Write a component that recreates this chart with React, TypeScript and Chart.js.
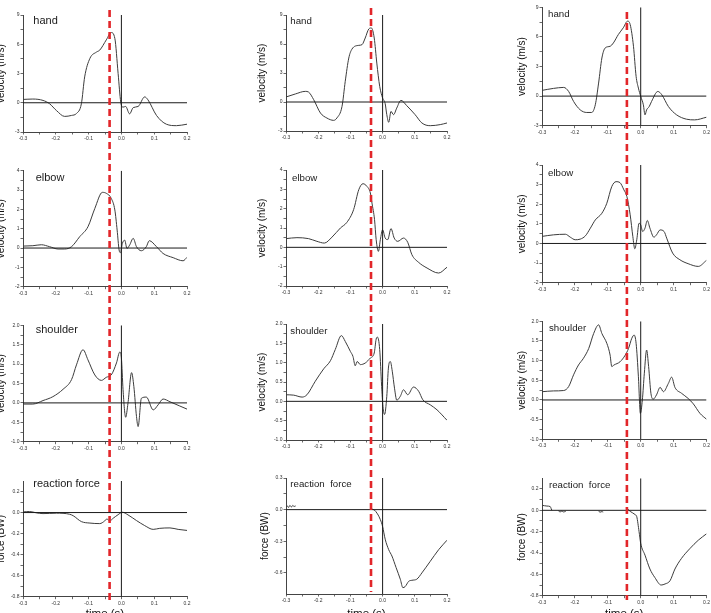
import React, { useEffect, useRef } from 'react';
import { Chart, registerables } from 'chart.js';

Chart.register(...registerables);

const FONT = "'Liberation Sans', Arial, Helvetica, sans-serif";

// ---------- tick labels ----------
const X_TICKS = [-0.3, -0.2, -0.1, 0.0, 0.1, 0.2];
const Y_TICKS_HAND = [-3, 0, 3, 6, 9];
const Y_TICKS_ELBOW = [-2, -1, 0, 1, 2, 3, 4];
const Y_TICKS_SHOULDER = [-1.0, -0.5, 0.0, 0.5, 1.0, 1.5, 2.0];
const Y_TICKS_FORCE = [-0.8, -0.6, -0.4, -0.2, 0.0, 0.2];
const Y_TICKS_FORCE_B = [-0.6, -0.3, 0.0, 0.3];

const PANEL_NAMES = ['hand', 'elbow', 'shoulder', 'reaction force'];
const PANEL_NAMES_B = ['hand', 'elbow', 'shoulder', 'reaction  force'];
const Y_TITLES = ['velocity (m/s)', 'velocity (m/s)', 'velocity (m/s)', 'force (BW)'];
const X_TITLE = 'time (s)';
// time of the red dashed marker in each column (s)
const RED_TIMES = [-0.036, -0.036, -0.042];

type Pt = [number, number | null];

// ---------- column 1 ----------
const hand1: Pt[] = [[-0.3,0.34],[-0.27,0.38],[-0.239,0.24],[-0.219,-0.1],[-0.198,-0.8],[-0.173,-1.4],[-0.152,-1.3],[-0.137,-1.1],[-0.122,-0.1],[-0.112,2.65],[-0.096,4.55],[-0.076,5.2],[-0.066,5.4],[-0.046,6.45],[-0.031,7.2],[-0.02,6.6],[-0.01,3.0],[-0.002,0.07],[0.005,-0.45],[0.013,-0.38],[0.025,-1.14],[0.036,-0.5],[0.051,-0.38],[0.071,0.6],[0.081,0.3],[0.107,-1.3],[0.137,-2.2],[0.168,-2.35],[0.2,-2.2]];
const elbow1: Pt[] = [[-0.3,0.1],[-0.27,0.12],[-0.244,0.17],[-0.219,0.07],[-0.193,-0.05],[-0.173,-0.05],[-0.152,0.07],[-0.127,0.59],[-0.102,1.1],[-0.081,2.05],[-0.058,2.88],[-0.046,2.83],[-0.031,2.57],[-0.02,1.97],[-0.013,0.93],[-0.007,-0.1],[-0.003,-0.24],[0.003,0.24],[0.01,0.41],[0.017,-0.02],[0.025,0.15],[0.036,0.5],[0.046,0.07],[0.061,-0.14],[0.076,0.07],[0.085,0.38],[0.107,0.07],[0.127,-0.28],[0.158,-0.5],[0.188,-0.66],[0.2,-0.48]];
const shoulder1: Pt[] = [[-0.3,-0.03],[-0.27,-0.03],[-0.239,0.06],[-0.209,0.16],[-0.178,0.35],[-0.152,0.6],[-0.137,0.98],[-0.117,1.37],[-0.102,1.11],[-0.081,0.72],[-0.061,0.58],[-0.046,0.66],[-0.031,0.72],[-0.015,1.03],[-0.005,1.31],[0,1.16],[0.005,0.34],[0.013,-0.37],[0.02,-0.01],[0.031,0.78],[0.038,0.42],[0.046,-0.35],[0.051,-0.61],[0.061,0.12],[0.076,0.15],[0.097,-0.18],[0.112,-0.05],[0.127,0.1],[0.148,0.03],[0.178,-0.08],[0.2,-0.16]];
const force1: Pt[] = [[-0.3,0.006],[-0.28,0.01],[-0.259,-0.003],[-0.239,-0.01],[-0.198,-0.006],[-0.158,-0.016],[-0.147,-0.03],[-0.122,-0.086],[-0.096,-0.1],[-0.066,-0.105],[-0.051,-0.08],[-0.044,-0.06],[-0.036,-0.08],[-0.025,-0.054],[-0.01,-0.02],[0.003,0.003],[0.02,-0.022],[0.046,-0.076],[0.071,-0.124],[0.097,-0.16],[0.117,-0.15],[0.148,-0.146],[0.173,-0.16],[0.2,-0.17]];

// ---------- column 2 ----------
const hand2: Pt[] = [[-0.3,0.52],[-0.271,0.83],[-0.24,1.1],[-0.23,1.03],[-0.214,0.24],[-0.193,-1.14],[-0.173,-1.66],[-0.152,-1.9],[-0.142,-1.66],[-0.126,-0.45],[-0.116,2.14],[-0.105,4.55],[-0.095,5.48],[-0.074,5.86],[-0.064,5.93],[-0.054,6.62],[-0.043,7.55],[-0.035,7.66],[-0.026,6.62],[-0.018,4.03],[-0.009,1.62],[0,0.41],[0.008,-0.17],[0.013,-1.31],[0.019,-2.1],[0.026,-0.97],[0.034,-1.31],[0.044,-0.62],[0.057,0.17],[0.075,-0.38],[0.101,-1.31],[0.122,-2.17],[0.148,-2.45],[0.179,-2.34],[0.2,-2.17]];
const elbow2: Pt[] = [[-0.3,0.45],[-0.266,0.5],[-0.23,0.45],[-0.204,0.31],[-0.181,0.22],[-0.157,0.53],[-0.131,1.0],[-0.111,1.29],[-0.09,1.95],[-0.074,2.98],[-0.061,3.29],[-0.049,3.16],[-0.038,2.81],[-0.033,2.29],[-0.025,1.43],[-0.02,0.4],[-0.013,-0.21],[-0.007,0.4],[0,0.91],[0.008,0.48],[0.016,0.4],[0.026,0.97],[0.036,0.48],[0.047,0.31],[0.065,0.48],[0.078,0.26],[0.091,-0.38],[0.112,-0.78],[0.138,-1.07],[0.174,-1.33],[0.2,-1.03]];
const shoulder2: Pt[] = [[-0.3,0.17],[-0.276,0.16],[-0.25,0.11],[-0.235,0.17],[-0.209,0.52],[-0.183,0.84],[-0.162,1.05],[-0.147,1.34],[-0.128,1.7],[-0.116,1.55],[-0.1,1.29],[-0.092,1.16],[-0.085,0.92],[-0.079,1.03],[-0.069,0.95],[-0.054,0.99],[-0.038,1.12],[-0.026,1.25],[-0.02,1.61],[-0.016,1.66],[-0.009,1.34],[-0.003,0.39],[0.001,-0.13],[0.006,-0.34],[0.013,0.13],[0.018,0.86],[0.024,1.03],[0.03,0.78],[0.037,0.34],[0.044,0.03],[0.055,0.13],[0.065,0.3],[0.078,0.17],[0.096,0.37],[0.112,0.26],[0.125,0.04],[0.148,-0.09],[0.169,-0.22],[0.2,-0.49]];
const force2: Pt[] = [[-0.3,0.02],[-0.296,0.035],[-0.292,0.02],[-0.288,0.04],[-0.283,0.025],[-0.279,0.04],[-0.275,0.03],[-0.27,0.035],[-0.268,null],[-0.035,0.006],[-0.026,-0.003],[-0.016,-0.04],[-0.007,-0.095],[0,-0.16],[0.008,-0.28],[0.019,-0.38],[0.029,-0.44],[0.042,-0.55],[0.055,-0.66],[0.063,-0.74],[0.07,-0.73],[0.081,-0.68],[0.091,-0.67],[0.106,-0.66],[0.122,-0.6],[0.148,-0.49],[0.174,-0.38],[0.2,-0.29]];

// ---------- column 3 ----------
const hand3: Pt[] = [[-0.3,0.58],[-0.265,0.78],[-0.234,0.88],[-0.219,0.47],[-0.204,-0.54],[-0.184,-1.39],[-0.164,-1.66],[-0.149,-1.66],[-0.138,-0.88],[-0.128,1.32],[-0.118,3.86],[-0.108,4.88],[-0.093,5.05],[-0.083,5.39],[-0.068,6.24],[-0.053,6.92],[-0.04,7.6],[-0.032,7.25],[-0.022,5.05],[-0.014,2.0],[-0.007,0.81],[0,-0.03],[0.008,-0.88],[0.013,-1.9],[0.018,-1.39],[0.026,-1.05],[0.033,-0.54],[0.052,0.47],[0.064,0.14],[0.084,-1.05],[0.109,-1.9],[0.139,-2.34],[0.164,-2.41],[0.2,-2.14]];
const elbow3: Pt[] = [[-0.3,0.36],[-0.265,0.44],[-0.229,0.47],[-0.214,0.32],[-0.199,0.19],[-0.184,0.22],[-0.168,0.39],[-0.153,0.78],[-0.138,1.2],[-0.118,1.54],[-0.103,2.05],[-0.088,2.9],[-0.075,3.15],[-0.063,3.1],[-0.051,2.73],[-0.042,2.39],[-0.032,1.46],[-0.024,0.36],[-0.018,-0.27],[-0.012,0.19],[-0.005,1.03],[0,0.95],[0.006,0.61],[0.013,0.78],[0.02,1.17],[0.028,0.78],[0.04,0.32],[0.048,0.44],[0.059,0.69],[0.071,0.61],[0.079,0.27],[0.097,-0.49],[0.119,-0.83],[0.144,-1.03],[0.175,-1.17],[0.2,-0.86]];
const shoulder3: Pt[] = [[-0.3,0.21],[-0.265,0.23],[-0.234,0.24],[-0.219,0.34],[-0.204,0.64],[-0.189,0.89],[-0.174,1.06],[-0.158,1.31],[-0.143,1.69],[-0.128,1.91],[-0.118,1.69],[-0.103,1.44],[-0.093,1.14],[-0.088,0.85],[-0.081,0.89],[-0.063,0.97],[-0.047,1.14],[-0.037,1.31],[-0.027,1.57],[-0.02,1.65],[-0.014,1.44],[-0.007,0.59],[-0.001,-0.34],[0.005,0],[0.011,0.68],[0.018,1.27],[0.024,0.85],[0.031,0.17],[0.038,0.02],[0.048,0.13],[0.059,0.32],[0.069,0.21],[0.084,0.42],[0.094,0.58],[0.104,0.32],[0.124,0.17],[0.144,0.04],[0.16,-0.1],[0.18,-0.34],[0.2,-0.49]];
const force3: Pt[] = [[-0.3,0.047],[-0.285,0.04],[-0.275,0.035],[-0.272,0.015],[-0.27,0.0],[-0.262,null],[-0.25,-0.005],[-0.245,-0.015],[-0.24,-0.008],[-0.235,-0.015],[-0.228,-0.01],[-0.2,null],[-0.128,-0.005],[-0.124,-0.018],[-0.118,-0.012],[-0.114,-0.016],[-0.1,null],[-0.042,0.02],[-0.032,-0.01],[-0.017,-0.04],[-0.012,-0.06],[-0.005,-0.2],[0,-0.31],[0.013,-0.42],[0.028,-0.55],[0.043,-0.63],[0.062,-0.7],[0.074,-0.69],[0.089,-0.66],[0.104,-0.55],[0.124,-0.45],[0.149,-0.36],[0.175,-0.28],[0.2,-0.22]];

const SERIES: Pt[][][] = [
  [hand1, elbow1, shoulder1, force1],
  [hand2, elbow2, shoulder2, force2],
  [hand3, elbow3, shoulder3, force3],
];

// ---------- layout (page pixels) ----------
const ROWS: [number, number][] = [[0, 150], [150, 300], [300, 455], [455, 630]];
const Y_RANGES: [number, number][] = [[-3, 9], [-2, 4], [-1, 2], [-0.8, 0.3]];
const Y_DEC = [0, 0, 1, 1];
const COLS = [
  { left: -10, width: 247, areaL: 23, areaR: 187, titleX: [1, 1, 1, 1], red: [10, 604], fs: 11,
    lab: [[33.3, 20.7], [35.7, 177.3], [35.7, 329.3], [33.3, 483.3]],
    areas: [[15, 132], [170.7, 286.7], [325.3, 441.7], [481, 596.7]] },
  { left: 237, width: 237, areaL: 286, areaR: 447, titleX: [262, 262, 262, 265], red: [8, 592], fs: 9.7,
    lab: [[290.3, 21], [292, 177.7], [290.3, 331], [290.3, 484.3]],
    areas: [[15, 131], [170, 286], [324, 440], [478, 594]] },
  { left: 474, width: 237, areaL: 542, areaR: 707, titleX: [522, 522, 522, 522], red: [12, 600], fs: 9.7,
    lab: [[548, 14], [548, 172.7], [549, 328.3], [549, 485]],
    areas: [[7.3, 125.7], [165, 282.7], [321.3, 439.3], [478.3, 595.7]] },
];
const X_TITLE_Y = 614;

const withMinors = (majors: number[]) => {
  const out: number[] = [];
  majors.forEach((m, i) => {
    out.push(m);
    if (i < majors.length - 1) out.push((m + majors[i + 1]) / 2);
  });
  return out;
};
const isMajor = (majors: number[], v: number) => majors.some((m) => Math.abs(m - v) < 1e-9);

const redLine = {
  id: 'redLine',
  afterDatasetsDraw(chart: any, _args: any, opts: any) {
    const { ctx, scales } = chart;
    const px = scales.x.getPixelForValue(opts.t);
    ctx.save();
    ctx.strokeStyle = '#e2262a';
    ctx.lineWidth = 2.6;
    ctx.setLineDash([7, 4]);
    ctx.lineDashOffset = opts.dashOffset;
    ctx.beginPath();
    ctx.moveTo(px, opts.y0);
    ctx.lineTo(px, opts.y1);
    ctx.stroke();
    ctx.restore();
  },
};

type PanelCfg = {
  left: number; top: number; w: number; h: number;
  pad: { left: number; right: number; top: number; bottom: number };
  yWidth: number; xHeight: number;
  ymin: number; ymax: number; yMajors: number[]; yDec: number;
  series: Pt[]; yTitle: string; showXTitle: boolean;
  redT: number; y0: number; y1: number; dashOffset: number;
};

function Panel({ cfg }: { cfg: PanelCfg }) {
  const ref = useRef<HTMLCanvasElement>(null);
  useEffect(() => {
    const canvas = ref.current;
    if (!canvas) return;
    const xAll = withMinors(X_TICKS);
    const yAll = withMinors(cfg.yMajors);
    const chart = new Chart(canvas, {
      type: 'line',
      data: {
        datasets: [
          { data: [{ x: -0.3, y: 0 }, { x: 0.2, y: 0 }], borderColor: '#1a1a1a', borderWidth: 1, pointRadius: 0 },
          { data: [{ x: 0, y: cfg.ymin }, { x: 0, y: cfg.ymax }], borderColor: '#1a1a1a', borderWidth: 1, pointRadius: 0 },
          {
            data: cfg.series.map(([x, y]) => ({ x, y })),
            borderColor: '#3c3c3c', borderWidth: 1, pointRadius: 0,
            cubicInterpolationMode: 'monotone', spanGaps: false,
          },
        ],
      } as any,
      options: {
        animation: false,
        responsive: false,
        devicePixelRatio: 1,
        layout: { padding: cfg.pad },
        plugins: {
          legend: { display: false },
          tooltip: { enabled: false },
          redLine: { t: cfg.redT, y0: cfg.y0, y1: cfg.y1, dashOffset: cfg.dashOffset },
        } as any,
        scales: {
          x: {
            type: 'linear', min: -0.3, max: 0.2,
            afterBuildTicks: (s: any) => { s.ticks = xAll.map((v) => ({ value: v })); },
            afterFit: (s: any) => { s.height = cfg.xHeight; },
            ticks: {
              autoSkip: false, maxRotation: 0, padding: 1, color: '#333',
              font: { size: 5, family: FONT },
              callback: (v: any) => (isMajor(X_TICKS, Number(v)) ? Number(v).toFixed(1) : ''),
            },
            grid: { display: true, drawOnChartArea: false, drawTicks: true, tickLength: 2.5, color: '#444', lineWidth: 0.8 },
            border: { display: true, color: '#444', width: 1 },
            title: {
              display: cfg.showXTitle, text: X_TITLE, color: '#111', padding: 0,
              font: { size: 11.5, family: FONT },
            },
          },
          y: {
            type: 'linear', min: cfg.ymin, max: cfg.ymax,
            afterBuildTicks: (s: any) => { s.ticks = yAll.map((v) => ({ value: v })); },
            afterFit: (s: any) => { s.width = cfg.yWidth; },
            ticks: {
              autoSkip: false, padding: 1, color: '#333',
              font: { size: 5, family: FONT },
              callback: (v: any) => (isMajor(cfg.yMajors, Number(v)) ? Number(v).toFixed(cfg.yDec) : ''),
            },
            grid: { display: true, drawOnChartArea: false, drawTicks: true, tickLength: 2.5, color: '#444', lineWidth: 0.8 },
            border: { display: true, color: '#444', width: 1 },
            title: {
              display: true, text: cfg.yTitle, color: '#111', padding: 0,
              font: { size: 10, family: FONT },
            },
          },
        },
      } as any,
      plugins: [redLine as any],
    });
    return () => chart.destroy();
  }, [cfg]);
  return (
    <canvas
      ref={ref}
      width={cfg.w}
      height={cfg.h}
      style={{ position: 'absolute', left: cfg.left, top: cfg.top, width: cfg.w, height: cfg.h }}
    />
  );
}

const PANELS: PanelCfg[] = [];
COLS.forEach((col, ci) => {
  ROWS.forEach(([rTop, rBot], ri) => {
    const [aTop, aBot] = col.areas[ri];
    const h = rBot - rTop;
    const titleLeft = col.titleX[ri] - 6; // title line height 12 → half 6
    const showXTitle = ri === 3;
    const xHeight = showXTitle ? X_TITLE_Y + 6.9 - aBot : 10;
    const y0 = Math.max(0, col.red[0] - rTop);
    const y1 = Math.min(h, col.red[1] - rTop);
    PANELS.push({
      left: col.left, top: rTop, w: col.width, h,
      pad: {
        left: titleLeft - col.left,
        right: col.left + col.width - col.areaR,
        top: aTop - rTop,
        bottom: rBot - aBot - xHeight,
      },
      yWidth: col.areaL - titleLeft,
      xHeight,
      ymin: Y_RANGES[ri][0], ymax: Y_RANGES[ri][1],
      yMajors: ri === 0 ? Y_TICKS_HAND : ri === 1 ? Y_TICKS_ELBOW : ri === 2 ? Y_TICKS_SHOULDER : ci === 1 ? Y_TICKS_FORCE_B : Y_TICKS_FORCE,
      yDec: Y_DEC[ri],
      series: SERIES[ci][ri],
      yTitle: Y_TITLES[ri],
      showXTitle,
      redT: RED_TIMES[ci],
      y0, y1,
      dashOffset: rTop + y0 - col.red[0],
    });
  });
});

export default function App() {
  return (
    <div style={{ position: 'fixed', left: 0, top: 0, width: 711, height: 613, overflow: 'hidden', background: '#fff' }}>
      {PANELS.map((p, i) => <Panel key={i} cfg={p} />)}
      {COLS.map((col, ci) =>
        col.lab.map(([x, cy], ri) => (
          <span
            key={`l${ci}-${ri}`}
            style={{
              position: 'absolute', left: x, top: cy - col.fs * 0.6,
              fontSize: col.fs, lineHeight: `${col.fs * 1.2}px`, fontFamily: FONT,
              color: '#1a1a1a', whiteSpace: 'pre',
            }}
          >
            {(ci === 0 ? PANEL_NAMES : PANEL_NAMES_B)[ri]}
          </span>
        ))
      )}
    </div>
  );
}
